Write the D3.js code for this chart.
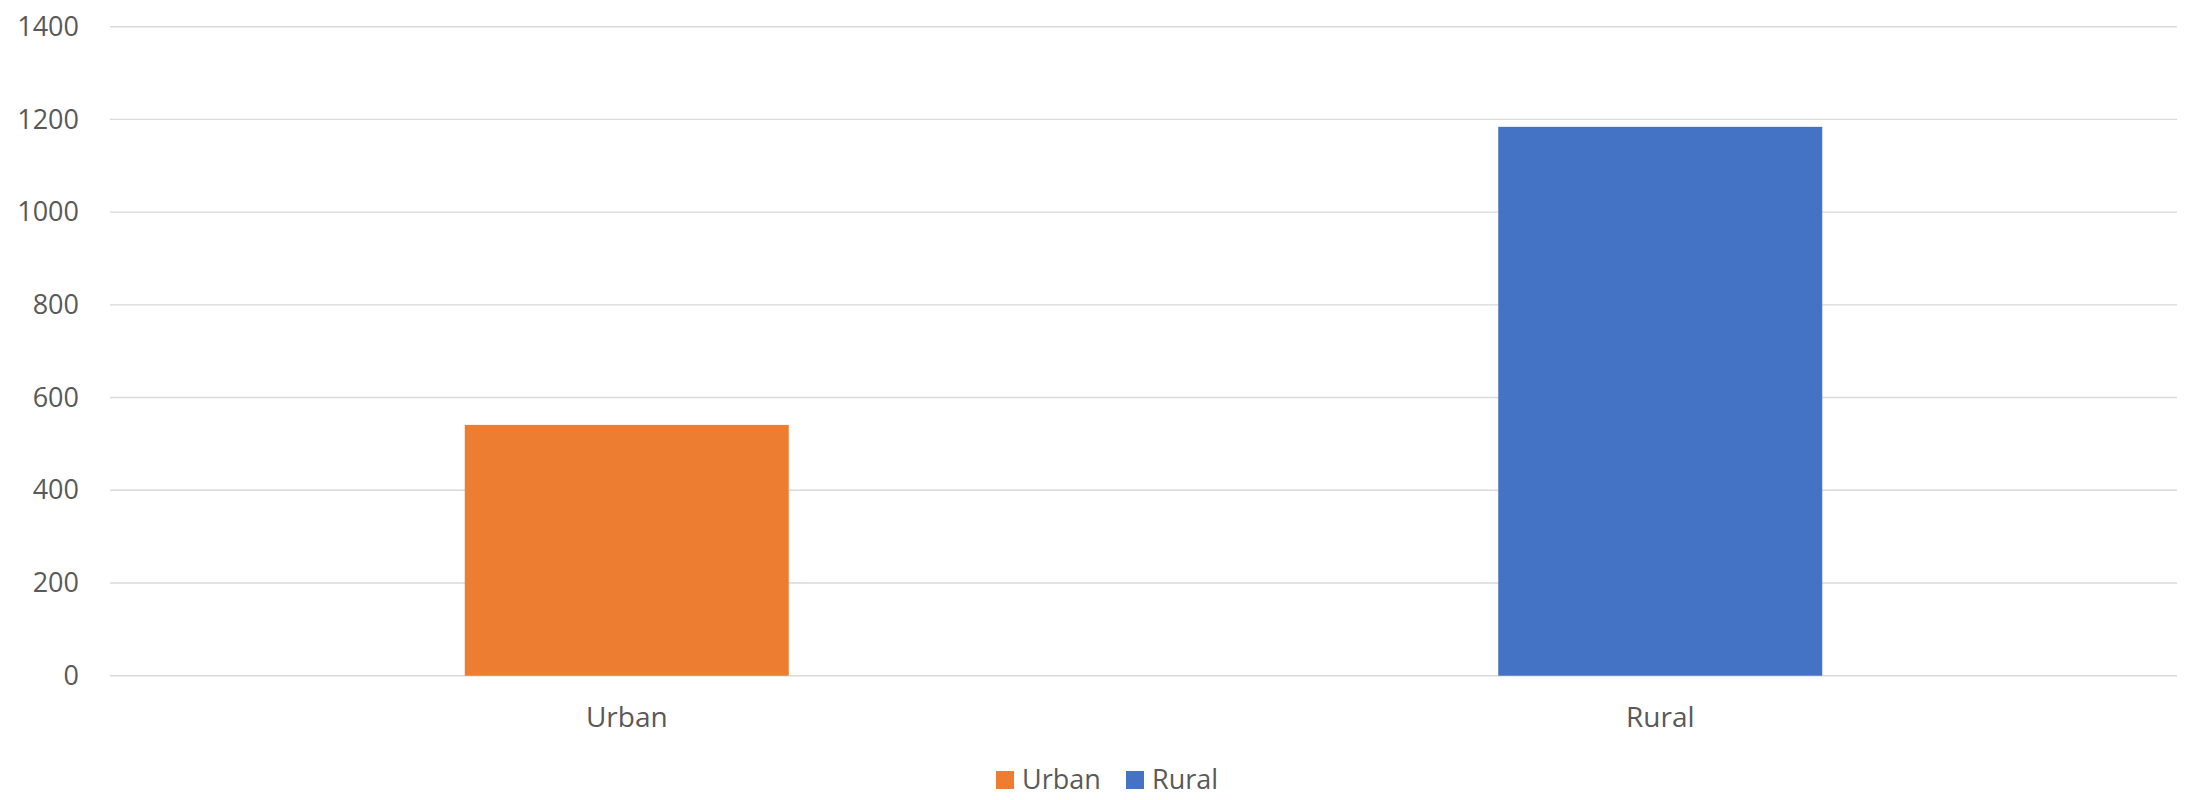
<!DOCTYPE html>
<html>
<head>
<meta charset="utf-8">
<script src="https://cdn.jsdelivr.net/npm/d3@7"></script>
<style>
  html, body { margin: 0; padding: 0; background: #ffffff; }
  svg { display: block; }
  text { font-family: "Open Sans", "Liberation Sans", sans-serif; fill: #595959; }
</style>
</head>
<body>
<svg id="chart" width="2190" height="800"></svg>
<script>
// Population counts by area type
const categories = ["Urban", "Rural"];
const values = [541, 1184];
const colors = ["#ED7D31", "#4472C4"];
const yTicks = [0, 200, 400, 600, 800, 1000, 1200, 1400];

const width = 2190, height = 800;
const margin = { top: 26.7, right: 13, bottom: 124.3, left: 110 };
const plotW = width - margin.left - margin.right;
const plotH = height - margin.top - margin.bottom;

const svg = d3.select("#chart");
const g = svg.append("g").attr("transform", `translate(${margin.left},${margin.top})`);

const x = d3.scaleBand()
  .domain(categories)
  .range([0, plotW])
  .paddingInner(0.6865)
  .paddingOuter(0.34325);

const y = d3.scaleLinear().domain([0, 1400]).range([plotH, 0]);

// Horizontal gridlines
g.append("g")
  .selectAll("line")
  .data(yTicks)
  .join("line")
  .attr("x1", 0)
  .attr("x2", plotW)
  .attr("y1", d => y(d))
  .attr("y2", d => y(d))
  .attr("stroke", "#d9d9d9")
  .attr("stroke-width", 1.4);

// Y axis labels
const yAxis = d3.axisLeft(y).tickValues(yTicks).tickFormat(d3.format("d")).tickSize(0).tickPadding(31);
const yg = g.append("g").call(yAxis);
yg.select(".domain").remove();
yg.selectAll("text")
  .attr("font-size", 27)
  .attr("font-family", "\"Open Sans\", sans-serif")
  .attr("fill", "#595959");

// Bars
g.append("g")
  .selectAll("rect")
  .data(categories.map((c, i) => ({ c, v: values[i], col: colors[i] })))
  .join("rect")
  .attr("x", d => x(d.c))
  .attr("width", x.bandwidth())
  .attr("y", d => y(d.v))
  .attr("height", d => y(0) - y(d.v))
  .attr("fill", d => d.col);

// X axis labels
const xAxis = d3.axisBottom(x).tickSize(0).tickPadding(31);
const xg = g.append("g").attr("transform", `translate(0,${plotH})`).call(xAxis);
xg.select(".domain").remove();
xg.selectAll("text")
  .attr("font-size", 28)
  .attr("font-family", "\"Open Sans\", sans-serif")
  .attr("fill", "#595959");

// Legend
const legend = svg.append("g").attr("transform", "translate(996,771)");
const items = [
  { label: "Urban", col: colors[0], dx: 0 },
  { label: "Rural", col: colors[1], dx: 130 }
];
const li = legend.selectAll("g").data(items).join("g")
  .attr("transform", d => `translate(${d.dx},0)`);
li.append("rect").attr("width", 18).attr("height", 18).attr("fill", d => d.col);
li.append("text")
  .attr("x", 26)
  .attr("y", 18)
  .attr("font-size", 27)
  .text(d => d.label);
</script>
</body>
</html>
